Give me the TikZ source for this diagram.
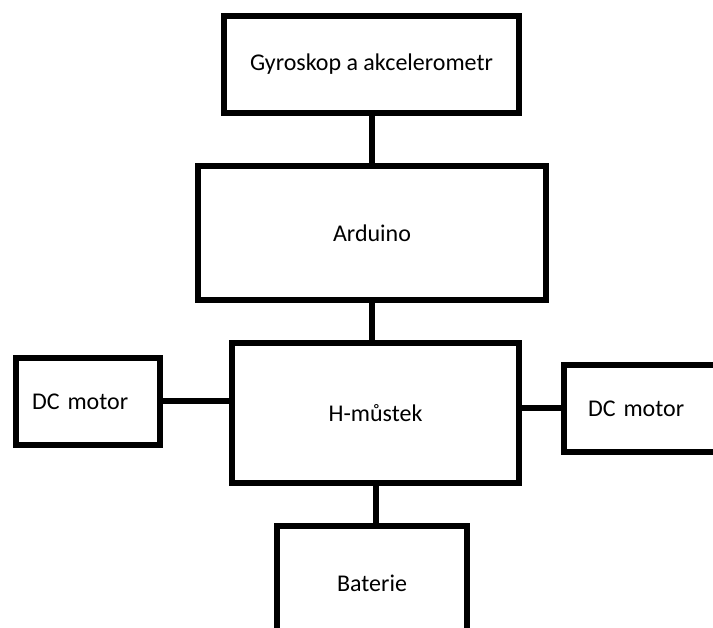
\documentclass[tikz,border=0pt]{standalone}
\usepackage{fontspec}
\setmainfont{Carlito}
\usepackage{tikz}
\usetikzlibrary{positioning, calc}

\tikzset{
  blok/.style={draw, line width=6pt, rectangle, inner sep=0pt, font=\fontsize{24}{28}\selectfont},
  spoj/.style={line width=6pt}
}

\begin{document}
\begin{tikzpicture}[x=1pt, y=-1pt]
    \clip (0,0) rectangle (713,628);
    % Bloky
    \node[blok, minimum width=295pt, minimum height=97pt] (gyro) at (371.5,64.5) {Gyroskop a akcelerometr};
    \node[blok, minimum width=348pt, minimum height=134pt] (ardu) at (372,233) {Arduino};
    \node[blok, minimum width=287pt, minimum height=140pt] (hmost) at (375.5,413) {H-můstek};
    \node[blok, minimum height=87pt, text width=112pt, align=left, inner xsep=16pt] (motorL) at (88,401.5) {DC motor};
    \node[blok, minimum height=87pt, text width=118pt, align=left, inner xsep=24pt] (motorP) at (647,408.5) {DC motor};
    \node[blok, minimum width=190pt, minimum height=114pt] (bat) at (372,583) {Baterie};
    % Spoje
    \draw[spoj] (gyro.south) -- (gyro.south |- ardu.north);
    \draw[spoj] (ardu.south) -- (ardu.south |- hmost.north);
    \draw[spoj] (hmost.south) -- (hmost.south |- bat.north);
    \draw[spoj] (motorL.east) -- (motorL.east -| hmost.west);
    \draw[spoj] (motorP.west) -- (motorP.west -| hmost.east);
\end{tikzpicture}
\end{document}
